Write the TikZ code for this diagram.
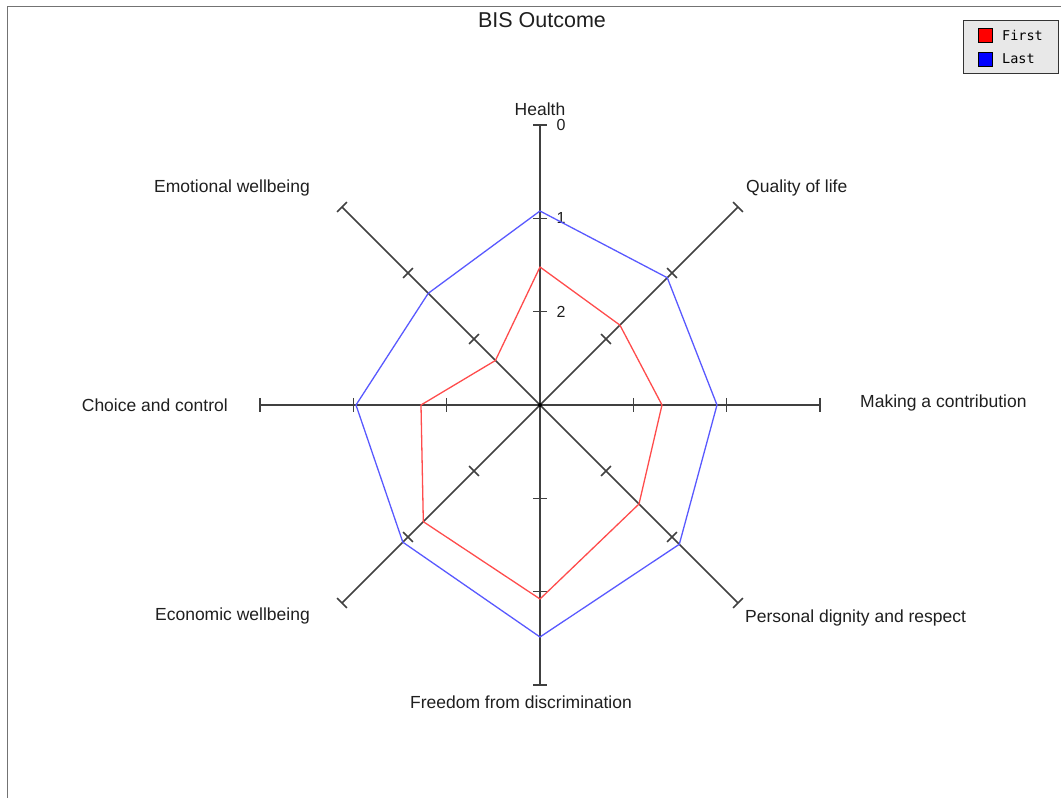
\documentclass[tikz,border=0pt]{standalone}
\usepackage{fontspec}
\setmainfont{Liberation Sans}
\newfontfamily\legendfont{DejaVu Sans Mono}
\usetikzlibrary{positioning}

\tikzset{
  axisline/.style={draw=black!75, line width=1.5pt},
  firstline/.style={draw=red!70, line width=1.3pt, line join=round},
  lastline/.style={draw=blue!65, line width=1.3pt, line join=round},
  lbl/.style={inner sep=0pt, font=\fontsize{17.5}{19}\selectfont, text=black!88},
  ticklbl/.style={inner sep=0pt, font=\fontsize{16}{18}\selectfont, text=black!88},
  keybox/.style={draw=black!80, line width=1pt}
}

\begin{document}
\begin{tikzpicture}[x=1pt,y=1pt]

\newcommand\AXLEN{280}
\newcommand\TA{93.3}
\newcommand\TB{186.7}
\newcommand\TK{7}

  \useasboundingbox (-540,-393) rectangle (521,405);

  %% frame
  \draw[black!55, line width=1pt] (521,398) -- (-532,398) -- (-532,-393);

  %% title
  \node[inner sep=0pt, font=\fontsize{21.5}{24}\selectfont, text=black!88]
  (title) at (2,385) {BIS Outcome};

  %% axes with ticks
  \draw[axisline] (0,0) -- (90:\AXLEN)
  (90:\TA) +(0:\TK) -- +(180:\TK)
  (90:\TB) +(0:\TK) -- +(180:\TK)
  (90:\AXLEN) +(0:\TK) -- +(180:\TK);
  \draw[axisline] (0,0) -- (45:\AXLEN)
  (45:\TA) +(135:\TK) -- +(-45:\TK)
  (45:\TB) +(135:\TK) -- +(-45:\TK)
  (45:\AXLEN) +(135:\TK) -- +(-45:\TK);
  \draw[axisline] (0,0) -- (0:\AXLEN)
  (0:\TA) +(90:\TK) -- +(-90:\TK)
  (0:\TB) +(90:\TK) -- +(-90:\TK)
  (0:\AXLEN) +(90:\TK) -- +(-90:\TK);
  \draw[axisline] (0,0) -- (-45:\AXLEN)
  (-45:\TA) +(45:\TK) -- +(-135:\TK)
  (-45:\TB) +(45:\TK) -- +(-135:\TK)
  (-45:\AXLEN) +(45:\TK) -- +(-135:\TK);
  \draw[axisline] (0,0) -- (-90:\AXLEN)
  (-90:\TA) +(0:\TK) -- +(180:\TK)
  (-90:\TB) +(0:\TK) -- +(180:\TK)
  (-90:\AXLEN) +(0:\TK) -- +(180:\TK);
  \draw[axisline] (0,0) -- (-135:\AXLEN)
  (-135:\TA) +(135:\TK) -- +(-45:\TK)
  (-135:\TB) +(135:\TK) -- +(-45:\TK)
  (-135:\AXLEN) +(135:\TK) -- +(-45:\TK);
  \draw[axisline] (0,0) -- (180:\AXLEN)
  (180:\TA) +(90:\TK) -- +(-90:\TK)
  (180:\TB) +(90:\TK) -- +(-90:\TK)
  (180:\AXLEN) +(90:\TK) -- +(-90:\TK);
  \draw[axisline] (0,0) -- (135:\AXLEN)
  (135:\TA) +(45:\TK) -- +(-135:\TK)
  (135:\TB) +(45:\TK) -- +(-135:\TK)
  (135:\AXLEN) +(45:\TK) -- +(-135:\TK);

  \fill[black] (0,0) circle (2);

  %% scale
  \node[ticklbl] (zero) at (21,280) {0};
  \node[ticklbl] (one) at (21,187) {1};
  \node[ticklbl] (two) at (21,93) {2};

  %% series
  \draw[lastline] (90:194) -- (45:180) -- (0:177) -- (-45:197) -- (-90:232)
  -- (-135:194) -- (180:184) -- (135:158) -- cycle;
  \draw[firstline] (90:138) -- (45:113) -- (0:122) -- (-45:140) -- (-90:194)
  -- (-135:165) -- (180:119) -- (135:63) -- cycle;

  %% axis labels
  \node[lbl] (health) at (0,296) {Health};
  \node[lbl, anchor=west] (quality) at (206,217) {Quality of life};
  \node[lbl, anchor=west] (making) at (320,2) {Making a contribution};
  \node[lbl, anchor=west] (dignity) at (205,-213) {Personal dignity and respect};
  \node[lbl] (freedom) at (-19,-297) {Freedom from discrimination};
  \node[lbl, anchor=east] (economic) at (-230,-211) {Economic wellbeing};
  \node[lbl, anchor=east] (choice) at (-312,0) {Choice and control};
  \node[lbl, anchor=east] (emotional) at (-230,217) {Emotional wellbeing};

  %% legend
  \draw[keybox, fill=black!9] (423,384) rectangle (518,331);
  \draw[fill=red, line width=0.8pt] (438,377) rectangle (452,363);
  \draw[fill=blue, line width=0.8pt] (438,353) rectangle (452,339);
  \node[inner sep=0pt, anchor=west, font=\legendfont\fontsize{13.5}{15}\selectfont]
  (firstkey) at (462,370) {First};
  \node[inner sep=0pt, anchor=west, font=\legendfont\fontsize{13.5}{15}\selectfont]
  (lastkey) at (462,346) {Last};

\end{tikzpicture}
\end{document}
